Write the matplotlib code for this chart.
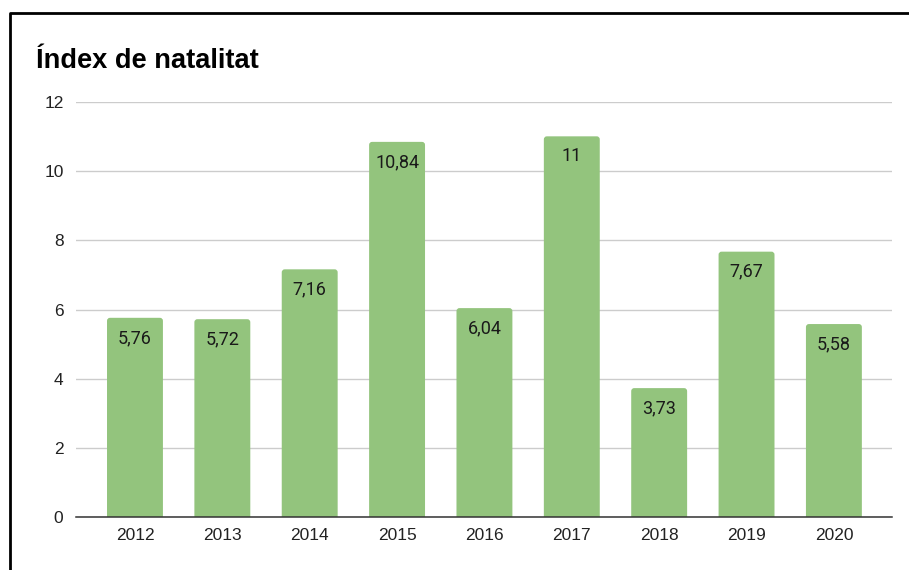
import matplotlib
matplotlib.use('Agg')
import matplotlib.pyplot as plt
from matplotlib.patches import FancyBboxPatch
from matplotlib.lines import Line2D

# data
years = ['2012', '2013', '2014', '2015', '2016', '2017', '2018', '2019', '2020']
values = [5.76, 5.72, 7.16, 10.84, 6.04, 11, 3.73, 7.67, 5.58]
labels = ['5,76', '5,72', '7,16', '10,84', '6,04', '11', '3,73', '7,67', '5,58']
yticks = [0, 2, 4, 6, 8, 10, 12]

bar_color = '#93c47d'
W, H = 909, 570

fig = plt.figure(figsize=(W / 100, H / 100), dpi=100)
ax = fig.add_axes([76 / W, 1 - 517.3 / H, (892 - 76) / W, (517.3 - 101.7) / H])

ax.set_xlim(-0.675, len(years) - 1 + 0.665)
ax.set_ylim(0, 12)

# bar size in data units, rounded top corners of ~3 px
bar_w = 0.64
px_x = (len(years) - 1 + 0.665 + 0.675) / (892 - 76)
px_y = 12 / (517.3 - 101.7)
radius = 3 * px_x
for i, v in enumerate(values):
    patch = FancyBboxPatch((i - bar_w / 2, -0.3), bar_w, v + 0.3,
                           boxstyle=f'round,pad=0,rounding_size={radius}',
                           mutation_aspect=px_y / px_x,
                           facecolor=bar_color, edgecolor='none', zorder=2)
    ax.add_patch(patch)
    ax.annotate(labels[i], (i, v), xytext=(0, -14.5), textcoords='offset points',
                ha='center', va='center', fontsize=13, family='Roboto',
                color='#1a1a1a', zorder=3)

ax.set_xticks(range(len(years)))
ax.set_xticklabels(years, family='Liberation Sans', fontsize=12.5, color='#222222')
ax.set_yticks(yticks)
ax.set_yticklabels([str(t) for t in yticks], family='Liberation Sans', fontsize=12.5, color='#222222')
ax.tick_params(axis='both', length=0)
ax.tick_params(axis='y', pad=9)
ax.tick_params(axis='x', pad=8)

ax.grid(axis='y', color='#cccccc', linewidth=1)
ax.set_axisbelow(True)
for s in ['top', 'right', 'left']:
    ax.spines[s].set_visible(False)
ax.spines['bottom'].set_color('#333333')
ax.spines['bottom'].set_linewidth(1.1)
ax.spines['bottom'].set_zorder(4)

fig.text(36 / W, 1 - 68 / H, 'Índex de natalitat', fontsize=19.6, fontweight='bold',
         family='Liberation Sans', color='#000000', va='baseline', ha='left')

# black frame on the left and top edges
fig.add_artist(Line2D([9.5 / W, 9.5 / W, 1], [0, 1 - 13 / H, 1 - 13 / H],
                      transform=fig.transFigure, color='black', linewidth=2))

fig.savefig('out.png', dpi=100)
